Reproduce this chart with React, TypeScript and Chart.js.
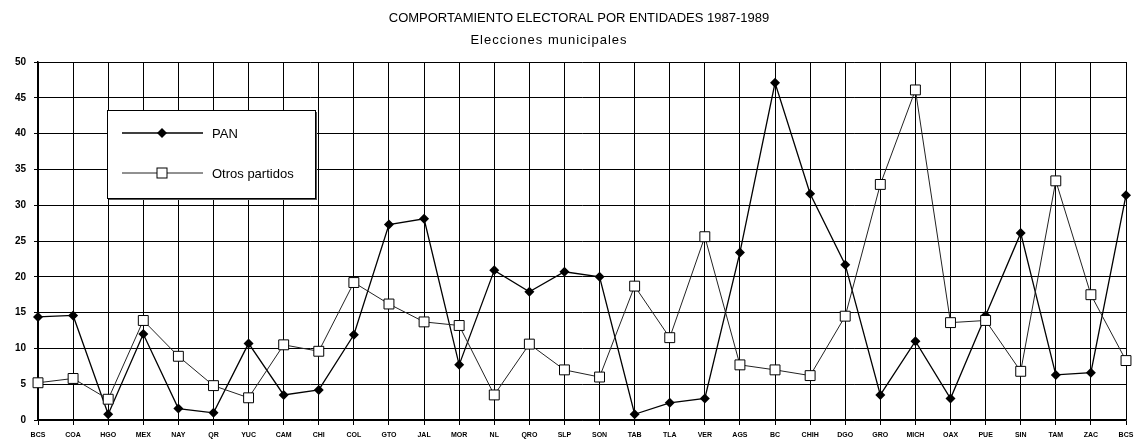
import React, { useEffect, useRef } from "react";
import { Chart, registerables } from "chart.js";

Chart.register(...registerables);

const TITLE = "COMPORTAMIENTO ELECTORAL POR ENTIDADES 1987-1989";
const SUBTITLE = "Elecciones municipales";

const categories = [
  "BCS", "COA", "HGO", "MEX", "NAY", "QR", "YUC", "CAM", "CHI", "COL", "GTO",
  "JAL", "MOR", "NL", "QRO", "SLP", "SON", "TAB", "TLA", "VER", "AGS", "BC",
  "CHIH", "DGO", "GRO", "MICH", "OAX", "PUE", "SIN", "TAM", "ZAC", "BCS",
];

const panValues = [
  14.4, 14.6, 0.8, 12.0, 1.6, 1.0, 10.7, 3.5, 4.2, 11.9, 27.3, 28.1, 7.7, 20.9,
  17.9, 20.7, 20.0, 0.8, 2.4, 3.0, 23.4, 47.1, 31.6, 21.7, 3.5, 11.0, 3.0, 14.6,
  26.1, 6.3, 6.6, 31.4,
];

const otrosValues = [
  5.2, 5.8, 2.9, 13.9, 8.9, 4.8, 3.1, 10.5, 9.6, 19.2, 16.2, 13.7, 13.2, 3.5,
  10.6, 7.0, 6.0, 18.7, 11.5, 25.6, 7.7, 7.0, 6.2, 14.5, 32.9, 46.1, 13.6, 13.9,
  6.8, 33.4, 17.5, 8.3,
];

const seriesNames = ["PAN", "Otros partidos"];
const yTicks = { min: 0, max: 50, step: 5 };

const FONT = "'Liberation Sans', Arial, Helvetica, sans-serif";

const decorPlugin = {
  id: "decor",
  afterDraw(chart: any) {
    const { ctx, chartArea } = chart;
    const mid = (chartArea.left + chartArea.right) / 2;
    ctx.save();
    ctx.fillStyle = "#000";
    ctx.textAlign = "center";
    ctx.textBaseline = "middle";
    ctx.font = `13px ${FONT}`;
    ctx.fillText(TITLE, mid - 3, 18);
    ctx.font = `13px ${FONT}`;
    try { (ctx as any).letterSpacing = "1px"; } catch (e) {}
    ctx.fillText(SUBTITLE, mid - 33, 40);
    try { (ctx as any).letterSpacing = "0px"; } catch (e) {}

    // legend box
    const bx = chartArea.left + 69;
    const by = chartArea.top + 48;
    const bw = 208;
    const bh = 88;
    ctx.fillStyle = "#555";
    ctx.fillRect(bx + 2, by + 2, bw, bh);
    ctx.fillStyle = "#fff";
    ctx.fillRect(bx, by, bw, bh);
    ctx.strokeStyle = "#000";
    ctx.lineWidth = 1;
    ctx.strokeRect(bx + 0.5, by + 0.5, bw, bh);

    const rows = [by + 23, by + 63];
    const x1 = bx + 15;
    const x2 = bx + 96;
    const mx = bx + 55;
    // PAN row
    ctx.strokeStyle = "#000";
    ctx.lineWidth = 1.3;
    ctx.beginPath();
    ctx.moveTo(x1, rows[0]);
    ctx.lineTo(x2, rows[0]);
    ctx.stroke();
    ctx.fillStyle = "#000";
    ctx.beginPath();
    ctx.moveTo(mx, rows[0] - 5);
    ctx.lineTo(mx + 5, rows[0]);
    ctx.lineTo(mx, rows[0] + 5);
    ctx.lineTo(mx - 5, rows[0]);
    ctx.closePath();
    ctx.fill();
    // Otros row
    ctx.strokeStyle = "#222";
    ctx.lineWidth = 1;
    ctx.beginPath();
    ctx.moveTo(x1, rows[1]);
    ctx.lineTo(x2, rows[1]);
    ctx.stroke();
    ctx.fillStyle = "#fff";
    ctx.fillRect(mx - 5, rows[1] - 5, 10, 10);
    ctx.strokeStyle = "#000";
    ctx.strokeRect(mx - 5, rows[1] - 5, 10, 10);

    ctx.fillStyle = "#000";
    ctx.textAlign = "left";
    ctx.font = `13px ${FONT}`;
    ctx.fillText(seriesNames[0], bx + 105, rows[0] + 1);
    ctx.fillText(seriesNames[1], bx + 105, rows[1] + 1);
    ctx.restore();
  },
};

export default function App() {
  const ref = useRef<HTMLCanvasElement>(null);

  useEffect(() => {
    document.body.style.margin = "0";
    const canvas = ref.current;
    if (!canvas) return;
    const chart = new Chart(canvas, {
      type: "line",
      data: {
        labels: categories,
        datasets: [
          {
            label: seriesNames[1],
            data: otrosValues,
            borderColor: "#222",
            borderWidth: 1,
            pointStyle: "rect",
            pointRadius: 7,
            pointBackgroundColor: "#fff",
            pointBorderColor: "#000",
            pointBorderWidth: 1,
            tension: 0,
            order: 0,
          },
          {
            label: seriesNames[0],
            data: panValues,
            borderColor: "#000",
            borderWidth: 1.3,
            pointStyle: "rectRot",
            pointRadius: 5,
            pointBackgroundColor: "#000",
            pointBorderColor: "#000",
            pointBorderWidth: 0,
            tension: 0,
            order: 1,
          },
        ],
      },
      options: {
        responsive: false,
        animation: false,
        layout: { padding: { top: 62, right: 6, left: 0, bottom: 0 } },
        plugins: {
          legend: { display: false },
          title: { display: false },
          tooltip: { enabled: false },
        },
        scales: {
          x: {
            type: "category",
            offset: false,
            grid: {
              display: true,
              color: "#000",
              lineWidth: 1,
              tickLength: 5,
              offset: false,
            },
            border: { color: "#000", width: 1.5 },
            ticks: {
              autoSkip: false,
              maxRotation: 0,
              minRotation: 0,
              padding: 6,
              color: "#000",
              font: { family: FONT, size: 7, weight: "bold" },
            },
            afterFit(scale: any) {
              scale.height = 20;
              scale.paddingLeft = 0;
              scale.paddingRight = 0;
            },
          },
          y: {
            min: yTicks.min,
            max: yTicks.max,
            ticks: {
              stepSize: yTicks.step,
              padding: 8,
              color: "#000",
              font: { family: FONT, size: 10, weight: "bold" },
            },
            grid: { color: "#000", lineWidth: 1, tickLength: 4 },
            border: { color: "#000", width: 1.5 },
            afterFit(scale: any) {
              scale.width = 38;
              scale.paddingTop = 0;
              scale.paddingBottom = 0;
            },
          },
        },
      },
      plugins: [decorPlugin],
    });
    return () => chart.destroy();
  }, []);

  return (
    <div style={{ width: 1134, height: 440, background: "#fff" }}>
      <canvas ref={ref} width={1134} height={440} />
    </div>
  );
}
